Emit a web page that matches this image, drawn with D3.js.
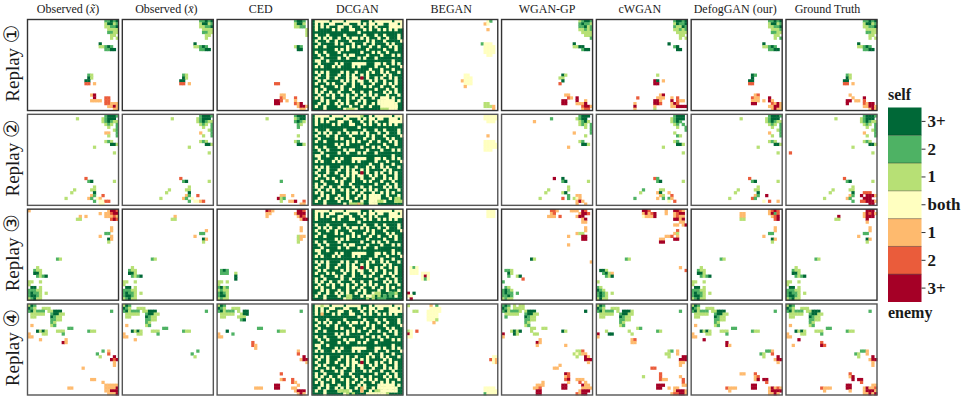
<!DOCTYPE html>
<html>
<head>
<meta charset="utf-8">
<script src="https://cdn.jsdelivr.net/npm/d3@7"></script>
<style>
html, body { margin: 0; padding: 0; background: #fff; }
svg { display: block; }
text { font-family: "Liberation Serif", serif; fill: #1a1a1a; }
</style>
</head>
<body>
<svg id="chart" width="969" height="399"></svg>
<script>
// map grid size, every panel is a 32x32 map
var gridSize = 32;
var methods = ["obs1","obs2","CED","DCGAN","BEGAN","WGAN-GP","cWGAN","DefogGAN (our)","Ground Truth"];
var titleNudge = [-5,-1.5,-2,0,-1,0,-2,-1.5,-4];
var replays = ["\u2460","\u2461","\u2462","\u2463"];

// legend, top to bottom. key is the char used in the cell rows below
var levelKeys = ["3","2","1","0","a","b","c"];
var levelLabels = ["3+","2","1","both","1","2","3+"];
var levelColors = ["#006837","#4eb264","#b7e075","#ffffc0","#feba6e","#ea5c3b","#a50026"];

// cells are [row, first column, levels] and "_" skips a column
var r1obs1 = [[0,27,"22323"],[1,27,"13312"],[2,27,"11223"],[3,28,"1111"],[4,28,"2211"],[5,29,"11"],[6,29,"1_1"],[8,25,"3"],[9,25,"11232"],[10,27,"2233"],[19,21,"21"],[20,21,"31"],[21,20,"33"],[22,20,"bb_a"],[26,22,"ac"],[27,23,"c___bb"],[28,22,"aaaa_bb"],[29,27,"bbaaa"],[30,28,"aaca"],[31,30,"aa"]];
var r1obs2 = [[0,27,"22323"],[1,27,"13312"],[2,27,"11223"],[3,28,"1111"],[4,28,"2211"],[5,29,"11"],[6,29,"1"],[8,25,"3"],[9,25,"11232"],[10,27,"2233"],[19,21,"21"],[20,21,"31"],[21,20,"33"],[22,20,"bb_a"]];
var r1ced = [[0,27,"2332"],[1,27,"1331"],[2,27,"1122"],[3,31,"1"],[4,31,"1"],[5,31,"1"],[9,27,"132"],[10,28,"33"],[22,20,"bb"],[26,22,"aa"],[27,22,"ba___b"],[28,20,"ccb_a__a"],[29,20,"cc_____bac"],[30,28,"acca"],[31,29,"aa"]];
var r1began = [[0,28,"02"],[1,27,"a0"],[3,28,"a"],[8,26,"2000"],[9,27,"0000"],[10,27,"0000"],[11,27,"0000"],[12,28,"00"],[19,20,"00"],[20,20,"000"],[21,19,"a000"],[22,20,"000"],[23,20,"a"],[29,27,"11"],[30,27,"111a"],[31,30,"a"]];
var r1wgan = [[0,27,"12332"],[1,27,"23221"],[2,27,"22312"],[3,27,"11212"],[4,28,"1111"],[5,29,"111"],[6,31,"2"],[8,25,"3"],[9,25,"1133"],[10,28,"233"],[19,21,"31"],[20,20,"11"],[21,21,"3"],[22,20,"b"],[26,22,"aa"],[27,23,"ba_c"],[28,21,"cc___c__a"],[29,21,"cc___aaac"],[30,28,"bcca"],[31,28,"abb"]];
var r1cwgan = [[0,27,"23323"],[1,27,"13223"],[2,27,"21132"],[3,27,"11212"],[4,28,"1111"],[5,29,"11"],[6,29,"1_1"],[8,25,"3"],[9,27,"23"],[10,28,"33"],[19,21,"1"],[21,20,"c3_a"],[22,20,"cc"],[26,22,"ac"],[27,14,"b______aaa__a_b"],[28,20,"cca___c_baa"],[29,13,"a______ccb___acb"],[30,13,"c______a_____aacccc"],[31,13,"a______1"]];
var r1defog = [[0,27,"22323"],[1,27,"13312"],[2,27,"11223"],[3,28,"1112"],[4,28,"2211"],[5,29,"11"],[6,29,"1_2"],[8,25,"3"],[9,25,"11232"],[10,27,"2233"],[19,21,"32"],[20,21,"3"],[21,20,"33"],[22,20,"bb"],[26,22,"ab"],[27,21,"baa___c"],[28,21,"aaa_a_ca"],[29,21,"cc_____bacaa"],[30,27,"aacca"],[31,28,"acaa"]];
var r1gt = [[0,27,"22323"],[1,27,"13312"],[2,27,"11223"],[3,28,"1111"],[4,28,"2211"],[5,29,"11"],[6,29,"1_1"],[8,25,"3"],[9,25,"11232"],[10,27,"2233"],[19,21,"21"],[20,21,"31"],[21,20,"33"],[22,20,"bb_a"],[26,22,"a"],[27,23,"a___c"],[28,21,"cc_aa_b"],[29,21,"c_____bacc"],[30,27,"aacca"],[31,29,"aca"]];

var r2obs1 = [[0,27,"23332"],[1,17,"1________12333_2"],[2,26,"123211"],[3,27,"121_2"],[4,28,"1__2"],[5,30,"12"],[6,27,"aa__2"],[7,28,"1__2"],[9,27,"121"],[10,29,"331"],[11,23,"1"],[13,30,"1"],[22,20,"b"],[23,21,"23_______1"],[25,23,"1"],[26,16,"1_____11"],[27,15,"1_______3"],[28,22,"a2__b"],[29,13,"1_______a2_0a"],[30,23,"2_00bb"],[31,25,"00"]];
var r2obs2 = [[0,27,"23332"],[1,17,"1________12333_2"],[2,26,"123211"],[3,27,"121_2"],[4,28,"1__2"],[5,30,"12"],[6,27,"a___2"],[7,28,"1__2"],[9,27,"121"],[10,29,"331"],[11,23,"1"],[13,30,"1"],[22,20,"b"],[23,21,"23_______1"],[25,23,"1"],[26,16,"1_____11"],[27,15,"1_______3"],[28,22,"a2__b"],[29,13,"1_______a2_0"],[30,23,"2_00ab"]];
var r2ced = [[0,27,"2333"],[1,17,"1_________1233"],[2,27,"2321"],[3,28,"21"],[4,28,"2"],[7,28,"1"],[9,27,"12"],[10,28,"331"],[23,22,"2"],[28,22,"aa__a"],[29,21,"c12"],[30,22,"1__aac__b"],[31,29,"aa"]];
var r2began = [[0,27,"00000"],[1,27,"00000"],[2,28,"000"],[7,28,"a"],[9,27,"0000"],[10,27,"00000"],[11,27,"00000"],[12,27,"000"]];
var r2wgan = [[0,27,"2333"],[1,17,"2________1233"],[2,11,"a_______________1231"],[3,27,"121_2"],[4,29,"1_2"],[5,31,"2"],[6,25,"a_____2"],[7,29,"1"],[9,27,"12"],[10,28,"331"],[11,23,"a"],[22,18,"c__3"],[23,21,"23_______1"],[25,23,"1"],[26,16,"1______1"],[27,15,"1_____13"],[28,23,"2__aa"],[29,13,"1_______b_2_10a"],[30,26,"aca"],[31,26,"a__a"]];
var r2cwgan = [[0,27,"2333"],[1,26,"12333"],[2,26,"1232"],[3,27,"12_2"],[4,28,"1__2"],[5,31,"2"],[6,27,"1"],[7,28,"21"],[9,27,"12"],[10,28,"331"],[11,23,"1"],[13,30,"1"],[22,20,"b2"],[23,21,"23_______1"],[26,16,"2_____11"],[27,15,"1_____a3__a"],[28,22,"a1__b"],[29,13,"2_______a_2_2a"],[30,25,"0_b"]];
var r2defog = [[0,27,"23332"],[1,17,"1________12333_2"],[2,26,"123211"],[3,27,"121_2"],[4,28,"1__2"],[5,30,"12"],[6,27,"a___2"],[7,28,"1__2"],[9,27,"121"],[10,29,"331"],[11,23,"1"],[13,30,"1"],[22,20,"b"],[23,21,"23_______1"],[25,23,"1"],[26,16,"1_____11"],[27,15,"1_______3"],[28,22,"a2__c"],[29,13,"1_______b2"],[30,25,"0_b__a"]];
var r2gt = [[0,27,"23332"],[1,17,"1________12333_2"],[2,26,"123211"],[3,27,"121_2"],[4,28,"1__2"],[5,30,"12"],[6,27,"a___2"],[7,28,"1__2"],[9,27,"121"],[10,29,"331"],[11,23,"1"],[13,1,"b____________________________1"],[22,20,"b"],[23,21,"23_______1"],[25,23,"1"],[26,16,"1_____11"],[27,15,"1_______3___bbb"],[28,22,"a2__c_ccca"],[29,13,"1_______a2____ccc"],[30,23,"2__bbccca"],[31,29,"cc"]];

var r3left = [[20,3,"1"],[21,2,"211"],[22,2,"331"],[23,3,"2123"],[25,0,"11__1"],[26,0,"1"],[27,1,"33_1"],[28,0,"22211"],[29,0,"23221_1"],[30,0,"23321"],[31,0,"12311"]];
var r3obs1 = [[0,0,"a"],[0,28,"accb"],[1,25,"a_aabcc"],[2,18,"a_a______aaabaa"],[3,17,"11__________bcb"],[6,29,"a"],[7,29,"a"],[8,27,"22"],[9,25,"a___a"],[10,28,"3a"],[11,28,"1"],[17,10,"21"]].concat(r3left);
var r3obs2 = [[2,18,"a"],[3,17,"11"],[7,29,"a"],[8,27,"22"],[9,25,"a"],[10,28,"3a"],[11,28,"1"],[17,10,"21"]].concat(r3left);
var r3ced = [[0,17,"cba________ccb"],[1,17,"aa________accc"],[2,17,"a__________acb"],[3,29,"acc"],[6,29,"a"],[7,29,"a"],[9,28,"1aa"],[10,28,"1a"],[11,28,"1"],[21,1,"232"],[22,1,"222__1"],[23,6,"3"],[24,6,"3"],[25,0,"11_1"],[26,0,"1"],[27,0,"2312"],[28,0,"1211"],[29,0,"2321"],[30,0,"2331"],[31,0,"1211"]];
var r3began = [[0,28,"000"],[1,28,"000"],[2,28,"000"],[20,1,"020"],[21,1,"000"],[22,1,"000_000"],[23,5,"0c0"],[24,5,"020"],[29,0,"c_3"],[30,0,"00"],[31,1,"c"]];
var r3wgan = [[0,17,"bba____aaa_cb"],[1,17,"ab________accb"],[2,16,"aaa_b_____acc"],[3,28,"ac"],[4,28,"aa"],[6,29,"a"],[7,29,"a"],[8,26,"a11"],[9,23,"a____cc"],[10,28,"cc"],[12,23,"a"],[17,10,"31"],[18,31,"a"],[21,1,"221"],[22,2,"31"],[23,2,"2__13"],[24,7,"b"],[25,0,"2"],[27,1,"21"],[28,0,"2321"],[29,0,"2322_2"],[30,0,"2232"],[31,0,"1211"]];
var r3cwgan = [[0,16,"ccb_____a__ccba"],[1,16,"acabc___a__abcc"],[2,16,"0aaac______abaa"],[3,27,"ccac"],[4,29,"aa"],[5,27,"aa_ac"],[7,28,"b"],[8,27,"a1"],[9,24,"aab_a"],[10,22,"aa___cc"],[11,22,"cc"],[17,10,"21"],[20,29,"a"],[21,1,"331___________________________b"],[22,2,"231a"],[23,3,"213"],[25,0,"1"],[27,0,"21"],[28,0,"321"],[29,0,"2321_1"],[30,0,"2321"],[31,0,"1311"]];
var r3defog = [[0,27,"abcb"],[1,17,"aa________ac2b"],[2,17,"aa_________abc"],[3,17,"11__________bc"],[6,29,"a"],[7,29,"a"],[8,27,"22"],[9,25,"a"],[10,28,"3a"],[11,28,"1"],[17,10,"21"]].concat(r3left);
var r3gt = [[0,28,"ccc"],[1,27,"acbca"],[2,18,"c________accc"],[3,17,"11_________c"],[4,28,"a"],[6,29,"a"],[7,29,"a"],[8,27,"22"],[9,25,"a"],[10,28,"3a"],[11,28,"1"],[17,10,"21"]].concat(r3left);

var r4left = [[0,0,"132_____"],[1,0,"321__111"],[2,0,"231222_1"],[3,1,"11111"],[4,1,"11"],[2,8,"1333"],[3,8,"23311"],[4,8,"3211"],[5,8,"2211"],[6,8,"21"],[7,8,"12"],[2,29,"2"],[8,14,"22"]];
var r4obs1 = r4left.concat([[7,1,"a"],[9,3,"3131___111________211"],[10,0,"a____11_____2"],[11,0,"aa"],[12,4,"a________a"],[13,12,"ca"],[16,26,"2_a"],[17,24,"2___b"],[18,25,"1____c"],[19,29,"cbc"],[20,30,"a"],[21,30,"a"],[22,19,"a"],[26,22,"aa"],[27,26,"a"],[28,27,"aaaaa"],[29,14,"aa___________aaaac"],[30,27,"aaccc"],[31,28,"aaac"]]);
var r4obs2 = r4left.concat([[7,1,"a"],[9,3,"3131___111________211"],[10,0,"a____11_____2"],[11,0,"aa"],[12,4,"a"],[16,26,"2"],[17,24,"2"],[18,25,"1"]]);
var r4ced = r4left.slice(0,5).concat([[2,9,"33"],[3,8,"133"],[4,7,"111"],[5,8,"23"],[2,29,"2"],[8,14,"22"],[9,3,"3_________________211"],[10,0,"a____2"],[11,0,"aa"],[13,12,"b"],[14,12,"ba"],[15,13,"a"],[16,28,"a"],[17,28,"b"],[18,30,"c"],[19,29,"acc"],[20,31,"a"],[24,22,"b"],[26,22,"ab__b"],[27,26,"ba"],[28,20,"cc______a"],[29,13,"aaa____cc____aa"],[30,27,"accc"],[31,28,"aca"]]);
var r4began = [[0,0,"1"],[0,8,"a_2"],[1,8,"0000"],[2,2,"11___00000"],[3,7,"0000"],[4,7,"0000"],[5,7,"0001"],[6,9,"a"],[9,0,"10_b"],[10,0,"c0"],[11,0,"00"],[18,30,"00"],[19,29,"b0a"],[20,30,"0a"],[29,27,"0000_2"],[30,27,"00000"],[31,27,"20000"]];
var r4wgan = [[0,0,"232_1_11"],[1,0,"321_1111"],[2,0,"2312221"],[3,1,"11111"],[4,1,"2"],[2,8,"1333"],[3,8,"23311"],[4,8,"3211"],[5,8,"2211"],[6,8,"21"],[7,8,"12"],[2,29,"3"],[8,10,"11__11"],[9,3,"1313___1__________31"],[10,0,"c___31_____11"],[11,0,"a"],[12,13,"a"],[13,12,"ca"],[14,12,"a_________a"],[16,26,"11b"],[17,25,"101aa"],[18,26,"1__ca"],[19,29,"ccc"],[20,30,"a"],[21,20,"a"],[22,18,"aa"],[24,22,"cb"],[25,22,"ab"],[26,22,"bc__aaa"],[27,14,"a________a___b_a"],[28,12,"aaa______cc_____caa"],[29,11,"aab_______cc_____aaaa"],[30,12,"cc_____________accc"],[31,12,"cc____________bacc"]];
var r4cwgan = r4left.slice(0,5).concat([[2,9,"3331"],[3,8,"23311"],[4,8,"3211"],[5,8,"2211"],[6,8,"21"],[7,8,"12"],[2,29,"2"],[8,14,"12"],[9,3,"1_______1_________21"],[10,0,"c___33______1"],[11,0,"a"],[12,12,"ab"],[13,12,"aa"],[16,25,"12_a"],[17,24,"11__a"],[18,25,"1____cc"],[19,29,"ccc"],[20,29,"aa"],[21,29,"a"],[22,19,"bb"],[24,22,"b"],[25,16,"1_____b______a"],[26,22,"baa_____b"],[27,30,"b"],[28,21,"ccc______aa"],[29,21,"cc__a_aa"],[30,27,"accca"],[31,26,"abbcca"]]);
var r4defog = r4left.concat([[7,1,"a"],[9,3,"3131___111________211"],[10,0,"a____11_____2"],[11,0,"aa"],[12,4,"c"],[13,12,"c"],[14,12,"ca"],[16,26,"22a"],[17,24,"21__b"],[18,25,"1____c"],[19,29,"acc"],[20,30,"a"],[24,17,"aa___b"],[25,22,"ab"],[26,22,"ac_cc"],[27,26,"b"],[28,21,"cc"],[29,12,"baaa_____cc____acabaa"],[30,13,"a_____________acccca"],[31,27,"aaca"]]);
var r4gt = r4left.concat([[7,1,"a"],[9,3,"3131___111________211"],[10,0,"a____11_____2"],[11,0,"aa"],[12,4,"c"],[13,12,"b"],[14,2,"a_________cb"],[16,26,"22a"],[17,24,"21__a"],[18,25,"1____c"],[19,29,"acc"],[20,30,"a"],[21,30,"a"],[24,22,"b"],[25,22,"ac"],[26,23,"c_cc"],[27,26,"b"],[28,21,"cc_______aa"],[29,12,"baaa_____cc____acaab"],[30,13,"a________a____accca"],[31,27,"aacac"]]);

// DCGAN came out almost the same map every time, so one base and a few edits
var dcganBase = [
"#.....#. ...#.... .###.#.. ....#...",
"#.#.##.. ###..### .#.#..#. .##...#.",
"#.#.#.## #..##.## #.##.#.# ###.....",
"#.#####. #.###..# ##.#.##. #.#.#.##",
"######## ######## .####### ########",
"#.###.## ###.#### ##.###.# #.####.#",
"##.#.#.# #.##.#.. #.#.###. ##.###.#",
"#.###.## .####.## ###.#.## #.#####.",
"##.##### .#.###.# ##.##.## ##.#.###",
"#.##.### ####.#.# .###.##. ###.#.##",
"######## .#.#.### ###.#### #.###.##",
"#.##.### #.###### #.###.#. ##.#####",
"##.##.## ###.#..# ###.#### .###.#.#",
"###.#### #.##.### .#.###.# ########",
"#..##.## ######## ######## ####.###",
"##.##### .#.###.. ...###.. #.##.#.#",
"#.#.###. #.####.# .#####.# ##.####.",
"######## ######## ####.### .###.###",
"#.#.#.## ##.#.##. ###.#.## .#.###.#",
"##.##.## #.##.#.# #.#.#### #.#.####",
"#.###.## .###.#.. ###.##.# .##.#.##",
"##.#.### ##.#.#.# ..##.#.# #.###.##",
"#.###.#. ###.##.# #.###.## #.#.#.##",
"###.#### .#.###.# ##.#.### .###.###",
"#.##.### ##.##.## ######.# ##.##.##",
"#.#.##.# #.####.# #.##.### #.#.#.##",
"##.##.#. ##.#.##. ##.#.#.# ##.###.#",
"#.#.###. ####.#.# #.###.## .#.#.###",
"###.#.## #.##.### .#.####. ##.###.#",
"##.##.## .#.#.##. ##.##.#. ###.####",
"#.##.### #.###.## #.##.### #.###.##",
"####.### ###.#### ######## ########"
];
var dcgan1 = [[20,17,"c"],[27,25,"00"],[28,24,"00000"],[29,24,"000000"],[30,24,"000000"],[31,12,"1110"],[31,24,"111000"]];
var dcgan2 = [[0,17,"1"],[20,17,"c"],[28,20,"0000"],[29,20,"0000"],[30,20,"00011"],[31,13,"111a1"],[31,20,"000"],[29,29,"11"],[30,29,"111"]];
var dcgan3 = [[20,17,"c"],[29,22,"11___221"],[30,12,"11_____0_1_1_2_2"],[31,12,"11_____1_1_222"]];
var dcgan4 = [[0,3,"1"],[3,3,"a"],[20,17,"c"],[28,24,"00000"],[29,17,"a_____0000000"],[30,9,"1111____a____1100000"],[31,12,"1_1____00000001"]];

var allRows = [
  [r1obs1,r1obs2,r1ced,dcgan1,r1began,r1wgan,r1cwgan,r1defog,r1gt],
  [r2obs1,r2obs2,r2ced,dcgan2,r2began,r2wgan,r2cwgan,r2defog,r2gt],
  [r3obs1,r3obs2,r3ced,dcgan3,r3began,r3wgan,r3cwgan,r3defog,r3gt],
  [r4obs1,r4obs2,r4ced,dcgan4,r4began,r4wgan,r4cwgan,r4defog,r4gt]
];

var svg = d3.select("#chart");

var panelX = d3.scaleBand().domain(methods).range([27.5,877]).paddingInner(0.04);
var panelY = d3.scaleBand().domain(replays).range([19.5,395]).paddingInner(0.04);
var cellX = d3.scaleBand().domain(d3.range(gridSize)).range([0,panelX.bandwidth()]);
var cellY = d3.scaleBand().domain(d3.range(gridSize)).range([0,panelY.bandwidth()]);
var cellColor = d3.scaleOrdinal().domain(levelKeys).range(levelColors);

// turn the [row,col,levels] lists into single cells
function expandCells(list){
    var out = [];
    list.forEach(function(run){
        run[2].split("").forEach(function(ch,i){
            if(ch != "_" && run[1]+i < gridSize){
                out.push({row:run[0],col:run[1]+i,key:ch});
            }
        });
    });
    return out;
}

function expandBase(rows){
    var out = [];
    rows.forEach(function(line,r){
        line.replace(/ /g,"").split("").forEach(function(ch,c){
            if(c < gridSize){
                out.push({row:r,col:c,key:ch == "#" ? "3" : "0"});
            }
        });
    });
    return out;
}

replays.forEach(function(rep,ri){
    methods.forEach(function(m,mi){
        var panel = svg.append("g")
            .attr("transform","translate("+panelX(m)+","+panelY(rep)+")");

        var cells = expandCells(allRows[ri][mi]);
        if(m == "DCGAN"){
            // green first so the yellow keeps its size and no seams show
            cells = expandBase(dcganBase).sort(function(a,b){ return a.key < b.key ? 1 : -1; }).concat(cells);
        }

        panel.selectAll("rect.cell")
            .data(cells)
            .enter()
            .append("rect")
            .attr("class","cell")
            .attr("x",function(d){ return cellX(d.col); })
            .attr("y",function(d){ return cellY(d.row); })
            .attr("width",cellX.bandwidth()+0.4)
            .attr("height",cellY.bandwidth()+0.4)
            .attr("fill",function(d){ return cellColor(d.key); });

        panel.append("rect")
            .attr("width",panelX.bandwidth())
            .attr("height",panelY.bandwidth())
            .attr("fill","none")
            .attr("stroke",ri % 2 == 0 ? "#333" : "#555")
            .attr("stroke-width",1.4);
    });

    // row label, rotated
    var cy = panelY(rep)+panelY.bandwidth()/2;
    var label = svg.append("text")
        .attr("transform","translate(19,"+(cy-2)+") rotate(-90)")
        .attr("text-anchor","middle")
        .style("font-size","19px");
    label.append("tspan").text("Replay ");
    label.append("tspan").style("font-family","'DejaVu Sans'").style("font-size","21px").text(rep);
});

// column titles
methods.forEach(function(m,i){
    var t = svg.append("text")
        .attr("x",panelX(m)+panelX.bandwidth()/2+titleNudge[i])
        .attr("y",13)
        .attr("text-anchor","middle")
        .style("font-size","12px");
    if(m == "obs1" || m == "obs2"){
        t.append("tspan").text("Observed (");
        t.append("tspan").style("font-style","italic").text(m == "obs1" ? "x\u0303" : "x\u0304");
        t.append("tspan").text(")");
    } else {
        t.text(m);
    }
});

// colour legend
var legendY = d3.scaleBand().domain(d3.range(levelKeys.length)).range([107.5,302]);
var legend = svg.append("g").attr("transform","translate(888,0)");

legend.selectAll("rect")
    .data(levelKeys)
    .enter()
    .append("rect")
    .attr("x",0)
    .attr("y",function(d,i){ return legendY(i); })
    .attr("width",33.5)
    .attr("height",legendY.bandwidth())
    .attr("fill",function(d){ return cellColor(d); });

legend.selectAll("line.sep")
    .data(d3.range(1,levelKeys.length))
    .enter()
    .append("line")
    .attr("class","sep")
    .attr("x1",0)
    .attr("x2",33.5)
    .attr("y1",function(d){ return legendY(d); })
    .attr("y2",function(d){ return legendY(d); })
    .attr("stroke","#000")
    .attr("stroke-opacity",0.35);

var legendAxis = d3.axisRight(legendY)
    .tickSize(4)
    .tickPadding(2)
    .tickFormat(function(i){ return levelLabels[i]; });

var axisG = legend.append("g")
    .attr("transform","translate(33.5,0)")
    .call(legendAxis);
axisG.select(".domain").remove();
axisG.selectAll("line").attr("stroke","#333");
axisG.selectAll("text")
    .style("font-family","'Liberation Serif', serif")
    .style("font-size","17px")
    .style("font-weight","bold")
    .attr("fill","#111");

svg.append("text").attr("x",888).attr("y",100)
    .style("font-size","16px").style("font-weight","bold").text("self");
svg.append("text").attr("x",888).attr("y",318)
    .style("font-size","16px").style("font-weight","bold").text("enemy");
</script>
</body>
</html>
